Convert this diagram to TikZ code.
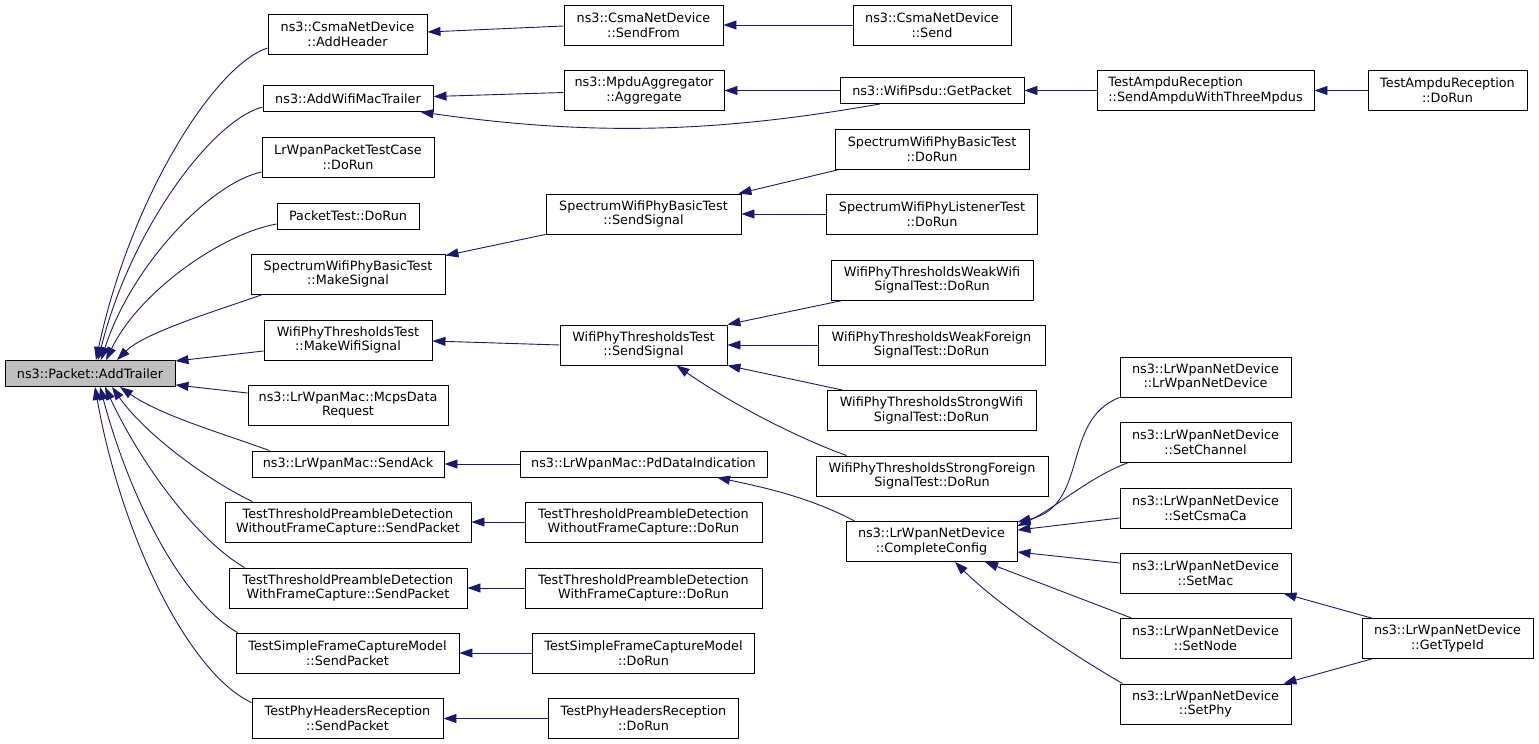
\documentclass[tikz,border=0pt]{standalone}
\usepackage{fontspec}
\setmainfont{DejaVu Sans}
\usetikzlibrary{arrows.meta}
\definecolor{midnight}{HTML}{191970}
\definecolor{rootgray}{HTML}{BFBFBF}
\begin{document}
\begin{tikzpicture}[x=1pt,y=1pt,
  fnbox/.style={draw=black,fill=white,line width=0.9pt,inner sep=0pt,align=center,
    minimum height=40pt,font=\fontsize{12.8}{14.7}\selectfont},
  one/.style={minimum height=26pt},
  call/.style={draw=midnight,line width=0.9pt,-{Triangle[length=13pt,width=9pt]}}]
  \useasboundingbox[fill=white] (0,0) rectangle (1539,-744);
  % the function itself
  \node[fnbox,one,fill=rootgray,minimum width=170] (addtrailer) at (90,-373.5) {ns3::Packet::AddTrailer};
  % direct callers
  \node[fnbox,minimum width=159] (addheader) at (347.5,-34.5) {ns3::CsmaNetDevice\\::AddHeader};
  \node[fnbox,one,minimum width=170] (addwifimac) at (348,-98.5) {ns3::AddWifiMacTrailer};
  \node[fnbox,minimum width=172] (lrwpantest) at (348,-157) {LrWpanPacketTestCase\\::DoRun};
  \node[fnbox,one,minimum width=142] (packettest) at (348,-216) {PacketTest::DoRun};
  \node[fnbox,minimum width=194] (makesignal) at (348,-274) {SpectrumWifiPhyBasicTest\\::MakeSignal};
  \node[fnbox,minimum width=168] (makewifisig) at (348,-340) {WifiPhyThresholdsTest\\::MakeWifiSignal};
  \node[fnbox,minimum width=200] (mcpsdata) at (348,-405) {ns3::LrWpanMac::McpsData\\Request};
  \node[fnbox,one,minimum width=192] (sendack) at (348,-464) {ns3::LrWpanMac::SendAck};
  \node[fnbox,minimum width=246] (sendwithout) at (348,-522) {TestThresholdPreambleDetection\\WithoutFrameCapture::SendPacket};
  \node[fnbox,minimum width=238] (sendwith) at (348,-588) {TestThresholdPreambleDetection\\WithFrameCapture::SendPacket};
  \node[fnbox,minimum width=223] (sendsimple) at (347.5,-653) {TestSimpleFrameCaptureModel\\::SendPacket};
  \node[fnbox,minimum width=191] (sendphyhdr) at (347.5,-718.5) {TestPhyHeadersReception\\::SendPacket};
  % second level
  \node[fnbox,minimum width=159] (sendfrom) at (643.5,-25) {ns3::CsmaNetDevice\\::SendFrom};
  \node[fnbox,minimum width=160] (aggregate) at (644,-90.5) {ns3::MpduAggregator\\::Aggregate};
  \node[fnbox,minimum width=195] (specsendsig) at (643.5,-214) {SpectrumWifiPhyBasicTest\\::SendSignal};
  \node[fnbox,minimum width=167] (thrsendsig) at (643.5,-345) {WifiPhyThresholdsTest\\::SendSignal};
  \node[fnbox,one,minimum width=247] (pddataind) at (643.5,-464) {ns3::LrWpanMac::PdDataIndication};
  \node[fnbox,minimum width=237] (dorunwithout) at (643.5,-522) {TestThresholdPreambleDetection\\WithoutFrameCapture::DoRun};
  \node[fnbox,minimum width=237] (dorunwith) at (643.5,-588) {TestThresholdPreambleDetection\\WithFrameCapture::DoRun};
  \node[fnbox,minimum width=222] (dorunsimple) at (643.5,-653) {TestSimpleFrameCaptureModel\\::DoRun};
  \node[fnbox,minimum width=190] (dorunphyhdr) at (643.5,-718.5) {TestPhyHeadersReception\\::DoRun};
  % third level
  \node[fnbox,minimum width=158] (csmasend) at (932,-25) {ns3::CsmaNetDevice\\::Send};
  \node[fnbox,one,minimum width=184] (getpacket) at (932,-90.5) {ns3::WifiPsdu::GetPacket};
  \node[fnbox,minimum width=194] (specdorun) at (932,-149) {SpectrumWifiPhyBasicTest\\::DoRun};
  \node[fnbox,minimum width=211] (listdorun) at (932,-214) {SpectrumWifiPhyListenerTest\\::DoRun};
  \node[fnbox,minimum width=202] (weakwifi) at (932,-280) {WifiPhyThresholdsWeakWifi\\SignalTest::DoRun};
  \node[fnbox,minimum width=227] (weakforeign) at (931.5,-345) {WifiPhyThresholdsWeakForeign\\SignalTest::DoRun};
  \node[fnbox,minimum width=209] (strongwifi) at (931.5,-410.5) {WifiPhyThresholdsStrongWifi\\SignalTest::DoRun};
  \node[fnbox,minimum width=232] (strongforeign) at (932,-476) {WifiPhyThresholdsStrongForeign\\SignalTest::DoRun};
  \node[fnbox,minimum width=171] (completecfg) at (931.5,-541.5) {ns3::LrWpanNetDevice\\::CompleteConfig};
  % fourth and fifth level
  \node[fnbox,align=left,minimum width=217] (sendampdu) at (1205.5,-90.5) {TestAmpduReception\\::SendAmpduWithThreeMpdus};
  \foreach \nm/\fn/\y in {lrwpanctor/LrWpanNetDevice/377, setchannel/SetChannel/442.5,
      setcsmaca/SetCsmaCa/508, setmac/SetMac/573, setnode/SetNode/638.5, setphy/SetPhy/704}
    \node[fnbox,minimum width=171] (\nm) at (1205.5,-\y) {ns3::LrWpanNetDevice\\::\fn};
  \node[fnbox,minimum width=159] (ampdudorun) at (1447.5,-90.5) {TestAmpduReception\\::DoRun};
  \node[fnbox,minimum width=171] (gettypeid) at (1447.5,-638.5) {ns3::LrWpanNetDevice\\::GetTypeId};

  % calls into AddTrailer
  \draw[call] ([yshift=-13.5]addheader.west) to[out=198,in=78,out distance=56,in distance=165] ([xshift=6]addtrailer.north);
  \draw[call] ([yshift=-8.5]addwifimac.west) to[out=195,in=76,out distance=53,in distance=134] ([xshift=8]addtrailer.north);
  \draw[call] ([yshift=-15]lrwpantest.west) to[out=192,in=72,out distance=51,in distance=102] ([xshift=11]addtrailer.north);
  \draw[call] ([yshift=-8]packettest.west) to[out=190,in=64,out distance=54,in distance=78] ([xshift=16]addtrailer.north);
  \draw[call] ([xshift=12]makesignal.south west) to[out=200,in=45,out distance=40,in distance=40] ([xshift=27]addtrailer.north);
  \draw[call] ([yshift=-11]makewifisig.west) -- ([yshift=-1]addtrailer.north east);
  \draw[call] ([yshift=12]mcpsdata.west) -- ([yshift=2]addtrailer.south east);
  \draw[call] ([xshift=18]sendack.north west) to[out=160,in=-35,out distance=50,in distance=50] ([xshift=30]addtrailer.south);
  \draw[call] ([xshift=28]sendwithout.north west) to[out=155,in=-55,out distance=45,in distance=60] ([xshift=22]addtrailer.south);
  \draw[call] ([xshift=16]sendwith.north west) to[out=150,in=-65,out distance=55,in distance=85] ([xshift=15]addtrailer.south);
  \draw[call] ([xshift=2]sendsimple.north west) to[out=150,in=-75,out distance=65,in distance=115] ([xshift=10]addtrailer.south);
  \draw[call] ([yshift=-4.5]sendphyhdr.north west) to[out=155,in=-80,out distance=70,in distance=150] ([xshift=5]addtrailer.south);

  % second level calls
  \draw[call] ([yshift=-1]sendfrom.west) -- ([yshift=2.5]addheader.east);
  \draw[call] ([yshift=-2]aggregate.west) -- ([yshift=2]addwifimac.east);
  \draw[call] ([xshift=-52]getpacket.south) to[out=190,in=-8,out distance=170,in distance=170] ([xshift=-13]addwifimac.south east);
  \draw[call] (specsendsig.south west) -- ([yshift=-2]makesignal.north east);
  \draw[call] (thrsendsig.west) -- ([yshift=-1]makewifisig.east);
  \foreach \a/\b in {pddataind/sendack, dorunwithout/sendwithout, dorunwith/sendwith,
      dorunsimple/sendsimple, dorunphyhdr/sendphyhdr, csmasend/sendfrom, getpacket/aggregate,
      listdorun/specsendsig, weakforeign/thrsendsig, sendampdu/getpacket, ampdudorun/sendampdu}
    \draw[call] (\a.west) -- (\b.east);

  % third level calls
  \draw[call] ([xshift=5]specdorun.south west) -- ([xshift=-3]specsendsig.north east);
  \draw[call] ([xshift=12]weakwifi.south west) -- (thrsendsig.north east);
  \draw[call] ([xshift=16]strongwifi.north west) -- (thrsendsig.south east);
  \draw[call] ([xshift=31]strongforeign.north west) to[out=160,in=-35,out distance=60,in distance=60] ([xshift=33]thrsendsig.south);
  \draw[call] ([xshift=9]completecfg.north west) to[out=152,in=-12,out distance=50,in distance=50] ([xshift=73.5]pddataind.south);

  % calls into CompleteConfig
  \draw[call] (lrwpanctor.south west) to[out=201,in=13,out distance=63,in distance=74] ([yshift=-1]completecfg.north east);
  \draw[call] ([xshift=8]setchannel.south west) to[out=200,in=25,out distance=40,in distance=40] ([yshift=-5]completecfg.north east);
  \draw[call] ([yshift=-10]setcsmaca.west) -- ([yshift=-9]completecfg.north east);
  \draw[call] ([yshift=10]setmac.west) -- ([yshift=-10.5]completecfg.east);
  \draw[call] ([xshift=12]setnode.north west) -- ([xshift=53.5]completecfg.south);
  \draw[call] ([xshift=3]setphy.north west) to[out=150,in=-45,out distance=60,in distance=60] ([xshift=23.5]completecfg.south);
  \draw[call] ([xshift=10]gettypeid.north west) -- ([xshift=-8]setmac.south east);
  \draw[call] ([xshift=10]gettypeid.south west) -- ([xshift=-8]setphy.north east);
\end{tikzpicture}
\end{document}
